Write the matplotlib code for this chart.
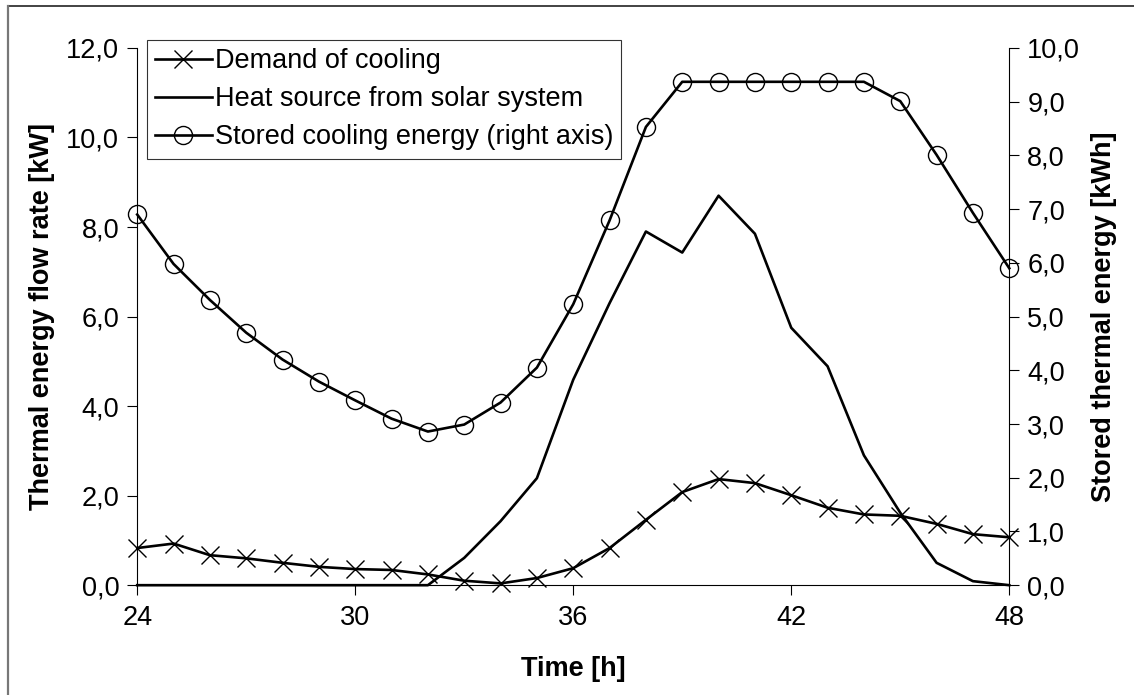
import numpy as np
import matplotlib
matplotlib.use("Agg")
import matplotlib.pyplot as plt
from matplotlib.ticker import FuncFormatter
from matplotlib.lines import Line2D

plt.rcParams["font.family"] = ["Liberation Sans", "DejaVu Sans"]

# hours
hours = list(range(24, 49))

# demand of cooling [kW], left axis
demand = [0.83, 0.93, 0.67, 0.60, 0.50, 0.41, 0.36, 0.34, 0.24, 0.10, 0.04, 0.16, 0.38,
          0.83, 1.46, 2.08, 2.37, 2.28, 2.01, 1.73, 1.58, 1.55, 1.37, 1.14, 1.07]

# heat source from solar system [kW], left axis
solar = [0, 0, 0, 0, 0, 0, 0, 0, 0, 0.61, 1.43, 2.39, 4.59,
         6.30, 7.90, 7.43, 8.70, 7.85, 5.75, 4.89, 2.90, 1.62, 0.50, 0.09, 0.0]

# stored cooling energy [kWh], right axis
stored = [6.90, 5.98, 5.31, 4.70, 4.20, 3.79, 3.44, 3.10, 2.86, 2.99, 3.40, 4.05, 5.23,
          6.79, 8.53, 9.37, 9.37, 9.37, 9.37, 9.37, 9.37, 9.01, 8.01, 6.93, 5.90]

comma = FuncFormatter(lambda v, p: f"{v:.1f}".replace(".", ","))
fs = 19.5

fig = plt.figure(figsize=(11.34, 6.95), dpi=100)
ax = fig.add_axes([0.121, 0.158, 0.769, 0.773])
ax2 = ax.twinx()

lw = 1.9
l1, = ax.plot(hours, demand, color="black", lw=lw, marker="x", markersize=13,
              markeredgewidth=1.0, clip_on=False, zorder=3, label="Demand of cooling")
l2, = ax.plot(hours, solar, color="black", lw=lw, clip_on=False, zorder=3,
              label="Heat source from solar system")
l3, = ax2.plot(hours, stored, color="black", lw=lw, marker="o", markersize=13,
               fillstyle="none", markeredgewidth=1.0, clip_on=False, zorder=3,
               label="Stored cooling energy (right axis)")

ax.set_xlim(24, 48)
ax.set_ylim(0, 12)
ax2.set_ylim(0, 10)
ax.set_xticks([24, 30, 36, 42, 48])
ax.set_yticks(np.arange(0, 12.1, 2))
ax2.set_yticks(np.arange(0, 10.1, 1))
ax.yaxis.set_major_formatter(comma)
ax2.yaxis.set_major_formatter(comma)

for a in (ax, ax2):
    a.spines["top"].set_visible(False)
    for s in a.spines.values():
        s.set_linewidth(0.8)
    a.tick_params(direction="out", length=7, width=0.8, labelsize=fs, pad=6)
ax.spines["right"].set_visible(False)
ax2.spines["left"].set_visible(False)
ax2.spines["bottom"].set_visible(False)
ax.tick_params(axis="x", pad=7)

ax.set_xlabel("Time [h]", fontsize=fs, fontweight="bold", labelpad=18)
ax.set_ylabel("Thermal energy flow rate [kW]", fontsize=fs, fontweight="bold", labelpad=8)
ax2.set_ylabel("Stored thermal energy [kWh]", fontsize=fs, fontweight="bold", labelpad=8)

leg = ax2.legend(handles=[l1, l2, l3], loc="upper left", bbox_to_anchor=(0.011, 1.015),
                 fontsize=fs, frameon=True, fancybox=False, handlelength=2.1,
                 handletextpad=0.1, borderpad=0.3, labelspacing=0.45, borderaxespad=0)
leg.get_frame().set_edgecolor("black")
leg.get_frame().set_linewidth(0.8)

# outer border of the picture (top and left edges only)
fig.add_artist(Line2D([8 / 1134, 1], [1 - 6 / 695, 1 - 6 / 695], transform=fig.transFigure,
                      color="#222222", lw=1.2))
fig.add_artist(Line2D([8 / 1134, 8 / 1134], [0, 1 - 6 / 695], transform=fig.transFigure,
                      color="#777777", lw=1.6))

fig.savefig("out.png", dpi=100)
